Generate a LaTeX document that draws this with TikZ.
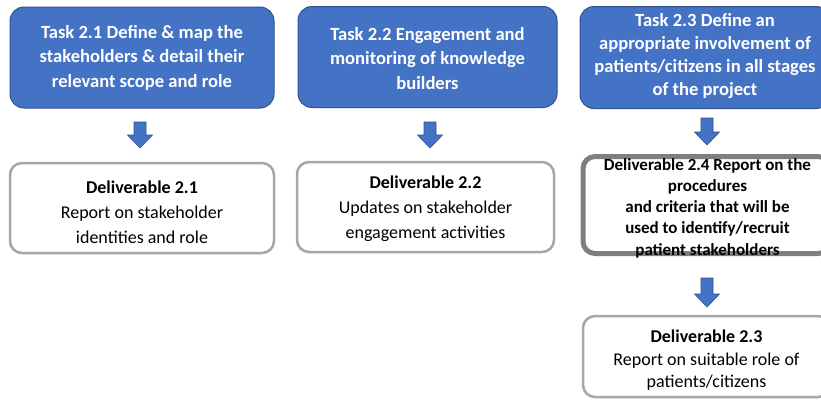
\documentclass[tikz,border=0pt]{standalone}
\usepackage{fontspec}
\setmainfont{Carlito}
\definecolor{taskblue}{HTML}{4472C4}
\definecolor{taskedge}{HTML}{2F528F}
\definecolor{delgray}{HTML}{A6A6A6}
\definecolor{keygray}{HTML}{7F7F7F}
\begin{document}
\begin{tikzpicture}[x=1pt,y=-1pt,
  task/.style={draw=taskedge, line width=1pt, fill=taskblue, rounded corners=14pt,
    inner sep=0pt, minimum height=101pt},
  tasktext/.style={text=white, font=\fontsize{18.6}{24.5}\selectfont\bfseries,
    align=center, inner sep=0pt},
  deliv/.style={draw=delgray, line width=2.5pt, fill=white, rounded corners=12pt,
    inner sep=0pt},
  delivtext/.style={font=\fontsize{18}{25}\selectfont, align=center, inner sep=0pt},
  keydeliv/.style={deliv, draw=keygray, line width=5pt},
  keytext/.style={font=\fontsize{17}{21.3}\selectfont\bfseries, align=center, inner sep=0pt},
  pics/downarrow/.style={code={
    \draw[fill=taskblue, draw=taskedge, line width=0.6pt]
      (-6,0) -- (6,0) -- (6,#1-13) -- (12.5,#1-13) -- (0,#1)
      -- (-12.5,#1-13) -- (-6,#1-13) -- cycle;}}]
\useasboundingbox (0,0) rectangle (821,399);
\clip (0,0) rectangle (821,399);
\fill[white] (0,0) rectangle (821,399);

% task boxes
\node[task, minimum width=264pt] (t1) at (142,57.5) {};
\node[tasktext] (t1text) at (t1.center)
  {Task 2.1 Define \& map the\\stakeholders \& detail their\\relevant scope and role};
\node[task, minimum width=259pt] (t2) at (427.5,57) {};
\node[tasktext, yshift=-1.5pt] (t2text) at (t2.center)
  {Task 2.2 Engagement and\\monitoring of knowledge\\builders};
\node[task, minimum width=250pt, minimum height=102pt] (t3) at (705,57.5) {};
\node[tasktext, font=\fontsize{18.6}{23}\selectfont\bfseries, yshift=1.5pt] (t3text) at (t3.center)
  {Task 2.3 Define an\\appropriate involvement of\\patients/citizens in all stages\\of the project};

% deliverables
\node[deliv, minimum width=264pt, minimum height=90pt] (d1) at (142,208) {};
\node[delivtext, yshift=-4pt] (d1text) at (d1.center)
  {\textbf{Deliverable 2.1}\\Report on stakeholder\\identities and role};
\node[deliv, minimum width=257pt, minimum height=90pt] (d2) at (425.5,207) {};
\node[delivtext, yshift=-2pt] (d2text) at (d2.center)
  {\textbf{Deliverable 2.2}\\Updates on stakeholder\\engagement activities};
\node[keydeliv, minimum width=247pt, minimum height=97pt] (d4) at (706.5,205) {};
\node[keytext, yshift=-3pt] (d4text) at ([xshift=1pt]d4.center)
  {Deliverable 2.4 Report on the\\procedures\\and criteria that will be\\used to identify/recruit\\patient stakeholders};
\node[deliv, minimum width=247pt, minimum height=81pt] (d3) at (706.5,356.5) {};
\node[delivtext, font=\fontsize{18}{22.5}\selectfont, yshift=-4pt] (d3text) at (d3.center)
  {\textbf{Deliverable 2.3}\\Report on suitable role of\\patients/citizens};

% flow arrows between the boxes
\pic (a1) at (140,122) {downarrow=26};
\pic (a2) at (430,122) {downarrow=26};
\pic (a3) at (707,118) {downarrow=27};
\pic (a4) at (707,278) {downarrow=29};
\end{tikzpicture}
\end{document}
